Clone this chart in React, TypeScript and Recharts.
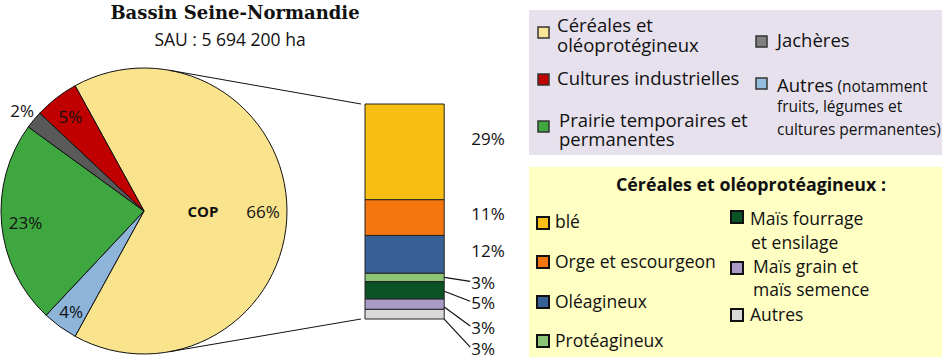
import React from 'react';
import { PieChart, Pie, Cell, BarChart, Bar, XAxis, YAxis, LabelList } from 'recharts';

// ---------- DATA ----------
const pieCategories = ['Céréales et oléoprotégineux', 'Autres', 'Prairie temporaires et permanentes', 'Jachères', 'Cultures industrielles'];
const pieValues = [66, 4, 23, 2, 5];
const pieLabels = ['66%', '4%', '23%', '2%', '5%'];
const pieColors = ['#f9e38c', '#8db4d9', '#3fa73f', '#595959', '#c00000'];

const copNames = ['blé', 'Orge et escourgeon', 'Oléagineux', 'Protéagineux', 'Maïs fourrage et ensilage', 'Maïs grain et maïs semence', 'Autres'];
const copValues = [29.4, 11, 11.6, 2.6, 5.3, 3.2, 3];
const copLabels = ['29%', '11%', '12%', '3%', '5%', '3%', '3%'];
const copColors = ['#f8bf12', '#f5760f', '#376096', '#8bc474', '#0b5224', '#a99ac6', '#d9d9d9'];

const title = 'Bassin Seine-Normandie';
const subtitle = 'SAU : 5 694 200 ha';
const copLegendTitle = 'Céréales et oléoprotéagineux :';

const mainLegendLines = [
  ['Céréales et', 'oléoprotégineux'],
  ['Cultures industrielles'],
  ['Prairie temporaires et', 'permanentes'],
  ['Jachères'],
  ['Autres', 'fruits, légumes et', 'cultures permanentes)'],
];
const mainLegendNote = ' (notamment';
const mainLegendSwatches = ['#fae597', '#c00000', '#3fa73f', '#7f7f7f', '#95bde0'];

const copLegendLines = [['blé'], ['Orge et escourgeon'], ['Oléagineux'], ['Protéagineux'], ['Maïs fourrage', 'et ensilage'], ['Maïs grain et', 'maïs semence'], ['Autres']];

// ---------- LAYOUT ----------
const W = 945;
const H = 364;
const FONT = '"Open Sans", sans-serif';
const PIE_CX = 144;
const PIE_CY = 211;
const PIE_R = 143;
const copStartAngle = (pieValues[0] / 100) * 180; // centre COP slice on the right
const pieLabelRadius = [119, 124, 119, 158, 120];

const BAR_CHART_LEFT = 300;
const BAR_CHART_W = 230;
const BAR_MARGIN = { top: 104, bottom: 45, left: 61, right: 81 };
const BAR_W = 88;
const segLabelDy = [-13, -4, -4, 5, 12, 23, 34];
const segLeaderDy = [null, null, null, 0, 1, 3, 5];

const mainLegendPos = [
  { sx: 538, sy: 27, tx: 557, ty: [32, 52] },
  { sx: 538, sy: 74, tx: 557, ty: [85] },
  { sx: 538, sy: 121, tx: 559, ty: [127, 146] },
  { sx: 756, sy: 36, tx: 777, ty: [47] },
  { sx: 756, sy: 78, tx: 777, ty: [92, 112, 135] },
];
const copLegendPos = [
  { sx: 537, sy: 217, tx: 555, ty: [228] },
  { sx: 537, sy: 256, tx: 555, ty: [268] },
  { sx: 537, sy: 296, tx: 555, ty: [308] },
  { sx: 537, sy: 335, tx: 555, ty: [347] },
  { sx: 731, sy: 211, tx: 750, ty: [225, 249] },
  { sx: 731, sy: 262, tx: 753, ty: [273, 296] },
  { sx: 731, sy: 309, tx: 750, ty: [321] },
];

const RAD = Math.PI / 180;

const pieData = pieCategories.map((name, i) => ({ name, value: pieValues[i] }));
const barRow: Record<string, any> = { name: 'COP' };
copNames.forEach((n, i) => { barRow['s' + i] = copValues[i]; });
const barData = [barRow];
const copTotal = copValues.reduce((a, b) => a + b, 0);

function renderPieLabel(props: any) {
  const { cx, cy, midAngle, index } = props;
  const r = pieLabelRadius[index];
  const x = cx + r * Math.cos(-midAngle * RAD);
  const y = cy + r * Math.sin(-midAngle * RAD);
  return (
    <g key={'pl' + index}>
      {index === 0 && (
        <text x={cx + 59 * Math.cos(-midAngle * RAD)} y={cy + 59 * Math.sin(-midAngle * RAD)} textAnchor="middle" dominantBaseline="central" fontFamily={FONT} fontWeight={700} fontSize={15} fill="#111">COP</text>
      )}
      <text x={x} y={y} textAnchor="middle" dominantBaseline="central" fontFamily={FONT} fontSize={17} fill="#111">{pieLabels[index]}</text>
    </g>
  );
}

function makeSegLabel(i: number) {
  return (props: any) => {
    const vb = props.viewBox && props.viewBox.width != null ? props.viewBox : props;
    const x = Number(vb.x), y = Number(vb.y), w = Number(vb.width), h = Number(vb.height);
    const cy = y + h / 2;
    const ly = cy + segLabelDy[i];
    const right = x + w;
    const lead = segLeaderDy[i];
    return (
      <g key={'sl' + i}>
        {lead != null && <line x1={right} y1={cy + lead} x2={right + 26} y2={ly - 1} stroke="#111" strokeWidth={1.2} />}
        <text x={right + 27} y={ly} dominantBaseline="central" fontFamily={FONT} fontSize={17} fill="#111">{copLabels[i]}</text>
      </g>
    );
  };
}

export default function App() {
  const barTop = BAR_MARGIN.top;
  const barBottom = H - BAR_MARGIN.bottom;
  const barLeft = BAR_CHART_LEFT + BAR_MARGIN.left;
  const connAngle = 10.3 * RAD;
  const px = PIE_CX + PIE_R * Math.sin(connAngle);
  const pyTop = PIE_CY - PIE_R * Math.cos(connAngle);
  const pyBot = PIE_CY + PIE_R * Math.cos(connAngle);
  const order = copNames.map((_, i) => i).reverse(); // bottom to top

  return (
    <div style={{ position: 'absolute', left: 0, top: 0, width: W, height: H, background: '#fff', overflow: 'hidden' }}>
      <div style={{ position: 'absolute', left: 0, top: 0 }}>
        <PieChart width={300} height={H} margin={{ top: 0, right: 0, bottom: 0, left: 0 }}>
          <Pie
            data={pieData}
            dataKey="value"
            cx={PIE_CX}
            cy={PIE_CY}
            outerRadius={PIE_R}
            startAngle={copStartAngle}
            endAngle={copStartAngle - 360}
            stroke="#111"
            strokeWidth={1}
            label={renderPieLabel}
            labelLine={false}
            isAnimationActive={false}
          >
            {pieData.map((d, i) => (
              <Cell key={d.name} fill={pieColors[i]} />
            ))}
          </Pie>
        </PieChart>
      </div>
      <div style={{ position: 'absolute', left: BAR_CHART_LEFT, top: 0 }}>
        <BarChart width={BAR_CHART_W} height={H} data={barData} margin={BAR_MARGIN} barCategoryGap={0}>
          <XAxis dataKey="name" hide />
          <YAxis hide domain={[0, copTotal]} />
          {order.map((i) => (
            <Bar key={'s' + i} dataKey={'s' + i} stackId="cop" fill={copColors[i]} stroke="#222" strokeWidth={1} barSize={BAR_W} isAnimationActive={false}>
              <LabelList dataKey={'s' + i} content={makeSegLabel(i)} />
            </Bar>
          ))}
        </BarChart>
      </div>
      <svg width={W} height={H} style={{ position: 'absolute', left: 0, top: 0, pointerEvents: 'none' }}>
        <text x={235} y={19} textAnchor="middle" fontFamily='"DejaVu Serif", serif' fontWeight={700} fontSize={18} fill="#111">{title}</text>
        <text x={230} y={46} textAnchor="middle" fontFamily={FONT} fontSize={17.5} fill="#111">{subtitle}</text>
        <line x1={px} y1={pyTop} x2={barLeft} y2={barTop} stroke="#111" strokeWidth={1} />
        <line x1={px} y1={pyBot} x2={barLeft} y2={barBottom} stroke="#111" strokeWidth={1} />

        <rect x={529} y={10} width={413} height={145} fill="#e7e1ee" />
        {mainLegendLines.map((lines, i) => {
          const p = mainLegendPos[i];
          return (
            <g key={'ml' + i}>
              <rect x={p.sx} y={p.sy} width={11} height={11} fill={mainLegendSwatches[i]} stroke="#333" strokeWidth={1.5} />
              {lines.map((t, j) => (
                <text key={j} x={p.tx} y={p.ty[j]} fontFamily={FONT} fontSize={i === 4 && j > 0 ? 15.5 : 18.5} fill="#111">
                  {t}
                  {i === 4 && j === 0 && <tspan fontSize={15.5}>{mainLegendNote}</tspan>}
                </text>
              ))}
            </g>
          );
        })}

        <rect x={529} y={167} width={413} height={190} fill="#ffffc4" />
        <text x={616} y={191} fontFamily={FONT} fontWeight={700} fontSize={17.8} fill="#111">{copLegendTitle}</text>
        {copLegendLines.map((lines, i) => {
          const p = copLegendPos[i];
          return (
            <g key={'cl' + i}>
              <rect x={p.sx} y={p.sy} width={12} height={12} fill={copColors[i]} stroke="#111" strokeWidth={2} />
              {lines.map((t, j) => (
                <text key={j} x={p.tx + (j > 0 && i === 4 ? 1 : 0)} y={p.ty[j]} fontFamily={FONT} fontSize={17.5} fill="#111">{t}</text>
              ))}
            </g>
          );
        })}
      </svg>
    </div>
  );
}
